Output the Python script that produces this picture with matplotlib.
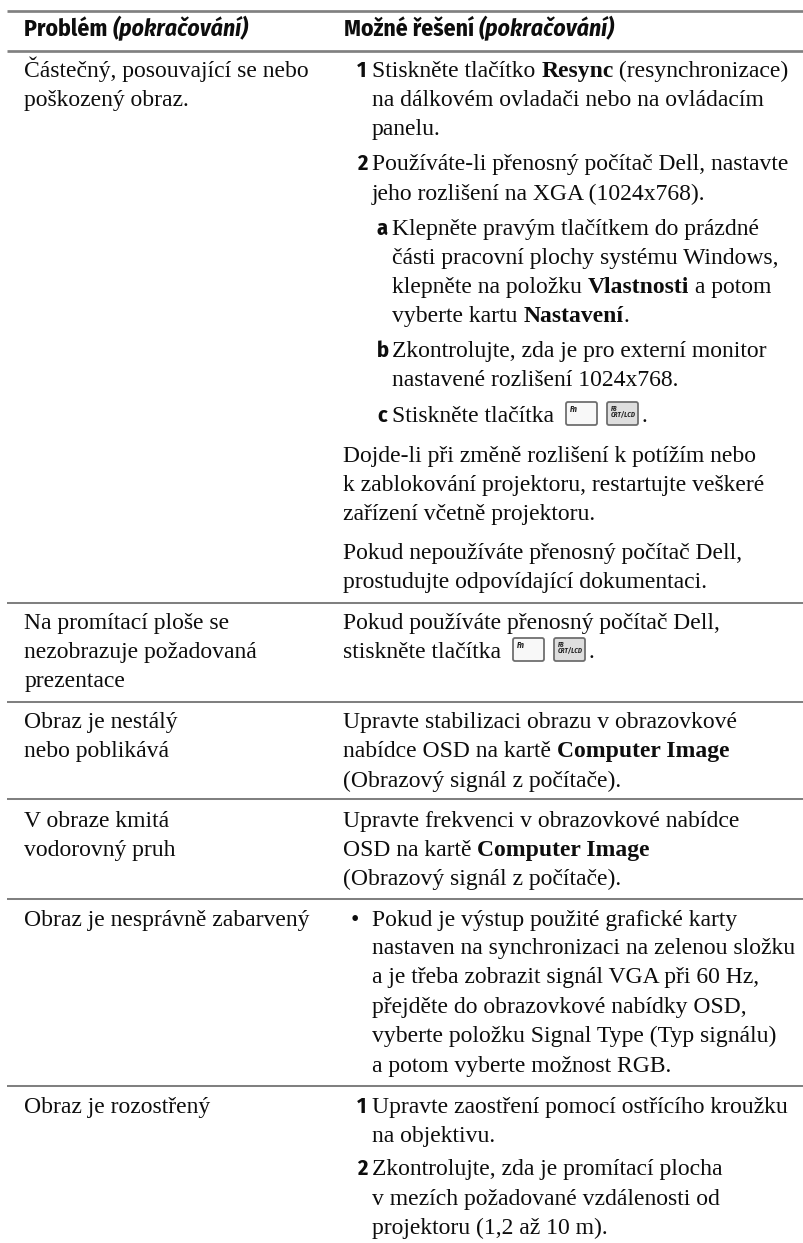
import matplotlib
matplotlib.use("Agg")
import matplotlib.pyplot as plt
from matplotlib.patches import FancyBboxPatch

SERIF = "Liberation Serif"
NARROW = ["Fira Sans Condensed", "DejaVu Sans"]
FS = 17.0
HFS = 17.0
INK = "#0d0d0d"

header_left = [("Problém ", "b"), ("(pokračování)", "bi")]
header_right = [("Možné řešení ", "b"), ("(pokračování)", "bi")]

left_lines = [
    "Částečný, posouvající se nebo", "poškozený obraz.",
    "Na promítací ploše se", "nezobrazuje požadovaná", "prezentace",
    "Obraz je nestálý", "nebo poblikává",
    "V obraze kmitá", "vodorovný pruh",
    "Obraz je nesprávně zabarvený",
    "Obraz je rozostřený",
]
left_y = [77, 106, 629, 658, 687, 728, 757, 827, 856, 926, 1113]

right_lines = [
    ("1", "Stiskněte tlačítko **Resync** (resynchronizace)"),
    ("", "na dálkovém ovladači nebo na ovládacím"),
    ("", "panelu."),
    ("2", "Používáte-li přenosný počítač Dell, nastavte"),
    ("", "jeho rozlišení na XGA (1024x768)."),
    ("a", "Klepněte pravým tlačítkem do prázdné"),
    ("", "části pracovní plochy systému Windows,"),
    ("", "klepněte na položku **Vlastnosti** a potom"),
    ("", "vyberte kartu **Nastavení**."),
    ("b", "Zkontrolujte, zda je pro externí monitor"),
    ("", "nastavené rozlišení 1024x768."),
    ("c", "Stiskněte tlačítka @@."),
    ("", "Dojde-li při změně rozlišení k potížím nebo"),
    ("", "k zablokování projektoru, restartujte veškeré"),
    ("", "zařízení včetně projektoru."),
    ("", "Pokud nepoužíváte přenosný počítač Dell,"),
    ("", "prostudujte odpovídající dokumentaci."),
    ("", "Pokud používáte přenosný počítač Dell,"),
    ("", "stiskněte tlačítka @@."),
    ("", "Upravte stabilizaci obrazu v obrazovkové"),
    ("", "nabídce OSD na kartě **Computer Image**"),
    ("", "(Obrazový signál z počítače)."),
    ("", "Upravte frekvenci v obrazovkové nabídce"),
    ("", "OSD na kartě **Computer Image**"),
    ("", "(Obrazový signál z počítače)."),
    ("•", "Pokud je výstup použité grafické karty"),
    ("", "nastaven na synchronizaci na zelenou složku"),
    ("", "a je třeba zobrazit signál VGA při 60 Hz,"),
    ("", "přejděte do obrazovkové nabídky OSD,"),
    ("", "vyberte položku Signal Type (Typ signálu)"),
    ("", "a potom vyberte možnost RGB."),
    ("1", "Upravte zaostření pomocí ostřícího kroužku"),
    ("", "na objektivu."),
    ("2", "Zkontrolujte, zda je promítací plocha"),
    ("", "v mezích požadované vzdálenosti od"),
    ("", "projektoru (1,2 až 10 m)."),
]
right_y = [77, 106, 135, 170, 200, 235, 264, 293, 322, 357, 386, 422,
           462, 491, 520, 559, 588, 629, 658, 728, 757, 787, 827, 856, 885,
           926, 954, 983, 1013, 1042, 1072, 1113, 1142, 1175, 1205, 1234]
right_x = [372, 372, 372, 372, 372, 392, 392, 392, 392, 392, 392, 392,
           343, 343, 343, 343, 343, 343, 343, 343, 343, 343, 343, 343, 343,
           372, 372, 372, 372, 372, 372, 372, 372, 372, 372, 372]
rules = [11, 51, 603, 702, 799, 899, 1086]
key_labels = ["Fn", "F8\nCRT/LCD"]

fig = plt.figure(figsize=(8.04, 12.43), dpi=100)
ax = fig.add_axes([0, 0, 1, 1])
ax.set_xlim(0, 804)
ax.set_ylim(1243, 0)
ax.axis("off")
r = fig.canvas.get_renderer()


def put(x, y, s, **kw):
    t = ax.text(x, y, s, va="baseline", ha="left", color=INK, **kw)
    return x + t.get_window_extent(r).width


def key(x, y, w, label, fc):
    ax.add_patch(FancyBboxPatch((x, y - 20), w, 23, boxstyle="round,pad=0,rounding_size=2",
                                fc=fc, ec="#6f6f6f", lw=1.3))
    two = "\n" in label
    ax.text(x + 4, y - 10 if two else y - 13, label, fontsize=5.0 if two else 6.0,
            style="italic", weight="bold", family=NARROW, va="center",
            color="#222222", linespacing=0.85)


def rich(x, y, s):
    parts = s.split("**")
    for i, p in enumerate(parts):
        if "@@" in p:
            a, b = p.split("@@")
            x = put(x, y, a.rstrip(), family=SERIF, fontsize=FS)
            x += 12
            key(x, y, 31, key_labels[0], "#f8f8f8")
            key(x + 41, y, 31, key_labels[1], "#dedede")
            put(x + 76, y, b, family=SERIF, fontsize=FS)
        else:
            x = put(x, y, p, family=SERIF, fontsize=FS, weight="bold" if i % 2 else "normal")


def head(x, y, segs):
    for s, st in segs:
        x = put(x, y, s, family=NARROW, fontsize=HFS, weight="bold",
                style="italic" if "i" in st else "normal")


for y in rules:
    ax.plot([7, 804], [y, y], color="#808080", lw=1.95 if y < 100 else 1.45, solid_capstyle="butt")

head(24, 36, header_left)
head(344, 36, header_right)
for s, y in zip(left_lines, left_y):
    put(24.5, y, s, family=SERIF, fontsize=FS)
for (m, s), y, x in zip(right_lines, right_y, right_x):
    if m == "•":
        put(351, y, m, family=SERIF, fontsize=FS)
    elif m:
        put(x - 15, y, m, family=NARROW, fontsize=FS - 1, weight="bold")
    rich(x, y, s)

fig.savefig("out.png", dpi=100)
